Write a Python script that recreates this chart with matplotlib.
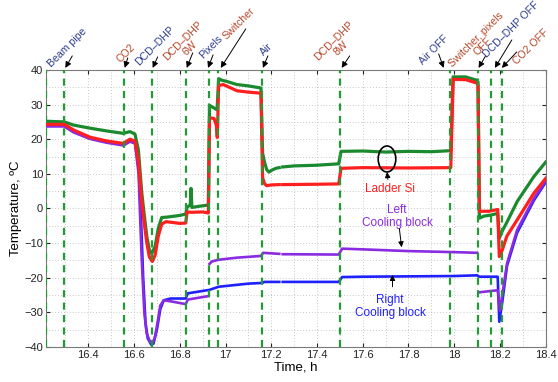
"""Temperaturas del ladder y bloques de refrigeracion durante la prueba termica."""

import matplotlib

matplotlib.use("Agg")
import matplotlib.pyplot as plt
import numpy as np
from matplotlib.patches import Ellipse
from matplotlib.ticker import FuncFormatter, MultipleLocator

plt.rcParams["font.family"] = ["Liberation Sans", "DejaVu Sans"]

nan = np.nan

# --- datos ---------------------------------------------------------------
green_t = [16.215, 16.295, 16.335, 16.407, 16.48, 16.553, 16.582, 16.604,
           16.619, 16.626, 16.634, 16.644, 16.656, 16.667, 16.677, 16.692,
           16.706, 16.721, 16.743, 16.8, 16.826, 16.832, 16.846, 16.849,
           16.853, 16.88, 16.925, 16.93, 16.95, 16.963, 16.97, 16.985, 17.0,
           17.05, 17.1, 17.155, 17.162, 17.17, 17.18, 17.19, 17.2, 17.22,
           17.235, 17.24, 17.25, 17.3, 17.4, 17.495, 17.505, 17.6, 17.7,
           17.8, 17.9, 17.985, 17.995, 18.05, 18.1, 18.104, 18.11, 18.13,
           18.16, 18.19, 18.197, 18.21, 18.23, 18.275, 18.348, 18.4]
green_v = [25.2, 25.0, 24.1, 23.2, 22.4, 21.7, 22.2, 21.5,
           16.9, 11.1, 4.4, -1.4, -8.1, -12.0, -13.0, -11.0,
           -5.7, -2.6, -2.5, -2.0, -1.6, 0.4, 1.0, 5.8,
           0.3, 0.6, 1.0, 29.8, 29.0, 28.5, 37.5, 37.0, 36.8,
           35.8, 35.4, 34.8, 16.0, 13.5, 11.2, 10.5, 11.0, 11.6,
           11.8, nan, 12.0, 12.3, 12.5, 12.9, 16.5, 16.6, 16.3,
           16.5, 16.4, 16.7, 38.0, 38.0, 37.0, 36.5, -2.8, -2.2,
           -1.9, -1.4, -8.6, -6.5, -4.0, 2.0, 9.2, 13.4]

red_t = [16.215, 16.295, 16.335, 16.407, 16.48, 16.553, 16.582, 16.604,
         16.619, 16.634, 16.644, 16.656, 16.667, 16.68, 16.692, 16.706,
         16.721, 16.74, 16.8, 16.826, 16.832, 16.85, 16.9, 16.925, 16.93,
         16.95, 16.96, 16.964, 16.97, 16.99, 17.05, 17.1, 17.155, 17.162,
         17.17, 17.18, 17.2, 17.235, 17.24, 17.25, 17.4, 17.495, 17.505,
         17.6, 17.8, 17.985, 17.995, 18.05, 18.1, 18.104, 18.11, 18.15,
         18.19, 18.197, 18.21, 18.23, 18.275, 18.348, 18.4]
red_v = [24.3, 24.3, 22.7, 20.6, 19.5, 18.8, 20.0, 19.5,
         14.0, 2.0, -4.0, -10.0, -14.0, -15.3, -13.5, -8.0,
         -4.5, -3.8, -4.3, -4.2, -1.0, -1.1, -1.0, -1.3, 26.2,
         26.0, 24.0, 20.5, 35.5, 35.8, 34.0, 33.6, 33.3, 9.0,
         7.2, 6.6, 6.8, 6.9, nan, 6.9, 7.0, 7.1, 11.6,
         11.8, 11.7, 11.8, 37.3, 37.2, 36.2, 35.5, -0.8, -0.8,
         -0.3, -13.9, -12.0, -8.0, -3.3, 4.4, 8.7]

left_t = [16.215, 16.295, 16.335, 16.407, 16.48, 16.553, 16.582, 16.604,
          16.62, 16.628, 16.632, 16.636, 16.645, 16.655, 16.67, 16.68,
          16.69, 16.7, 16.715, 16.73, 16.76, 16.8, 16.826, 16.835, 16.925,
          16.927, 16.93, 16.94, 16.97, 17.05, 17.155, 17.165, 17.235, 17.24,
          17.25, 17.495, 17.51, 17.6, 17.8, 18.0, 18.1, 18.105, 18.11,
          18.19, 18.2, 18.21, 18.231, 18.275, 18.348, 18.4]
left_v = [23.7, 23.7, 22.0, 20.1, 19.0, 18.2, 19.3, 18.8,
          10.0, -5.0, -12.0, -18.0, -30.0, -36.0, -38.5, -38.8,
          -37.5, -34.0, -28.0, -26.5, -26.8, -27.3, -27.6, -26.3, -25.3,
          nan, -16.0, -15.3, -14.8, -14.2, -13.7, -12.8, -13.1, nan,
          -13.2, -13.3, -11.6, -11.8, -12.3, -12.6, -12.8, nan, -24.2,
          -23.6, -29.5, -25.0, -15.8, -6.2, 2.9, 8.0]

right_t = [16.215, 16.295, 16.335, 16.407, 16.48, 16.553, 16.582, 16.604,
           16.62, 16.63, 16.64, 16.65, 16.66, 16.675, 16.685, 16.7, 16.715,
           16.73, 16.76, 16.826, 16.835, 16.93, 16.97, 17.1, 17.16, 17.17,
           17.235, 17.24, 17.25, 17.495, 17.51, 17.6, 17.8, 18.0, 18.1,
           18.11, 18.19, 18.197, 18.21, 18.231, 18.275, 18.348, 18.4]
right_v = [24.0, 24.0, 22.3, 20.3, 19.2, 18.4, 19.5, 19.0,
           12.0, -2.0, -20.0, -33.0, -37.5, -39.3, -39.0, -35.0, -29.0,
           -26.5, -26.0, -26.0, -24.5, -23.5, -22.6, -21.7, -21.5, -21.2,
           -21.2, nan, -21.2, -21.2, -19.8, -19.7, -19.6, -19.5, -19.3,
           -19.7, -19.7, -32.7, -27.0, -16.5, -7.0, 2.3, 7.6]

# eventos (h) y sus etiquetas
event_t = [16.215, 16.295, 16.555, 16.677, 16.826, 16.928, 16.966, 17.159,
           17.499, 17.98, 18.102, 18.16, 18.208]
BLUE_TXT = "#2e3c8e"
RED_TXT = "#b5472b"
# (texto, color, evento, dx cabeza px, cola (dx, dy) px, centro texto (dx, dy) px)
event_labels = [
    ("Beam pipe", BLUE_TXT, 1, 1, (7, 12), (2, 20)),
    ("CO2", RED_TXT, 2, 1, (3, 10), (1, 15)),
    ("DCD\u2013DHP", BLUE_TXT, 3, 1, (5, 11), (2, 22)),
    ("DCD\u2013DHP\n6W", RED_TXT, 4, 1, (6, 15), (0, 23)),
    ("Pixels", BLUE_TXT, 5, -1, (5, 13), (3, 21)),
    ("Switcher", RED_TXT, 6, 3, (25, 39), (18, 44)),
    ("Air", BLUE_TXT, 7, 1, (5, 12), (4, 19)),
    ("DCD\u2013DHP\n8W", RED_TXT, 8, 2, (8, 12), (-4, 23)),
    ("Air OFF", BLUE_TXT, 9, -6, (-5, 14), (-10, 18)),
    ("Switcher, pixels\nOFF", RED_TXT, 10, 1, (7, 12), (1, 25)),
    ("DCD\u2013DHP OFF", BLUE_TXT, 11, 4, (17, 28), (16, 38)),
    ("CO2 OFF", RED_TXT, 12, 0, (15, 16), (29, 21)),
]

GREEN = "#1b8a2e"
RED = "#ff1f1f"
BLUE = "#1f1fff"
PURPLE = "#8a2be2"
EV_GREEN = "#229a35"

fig = plt.figure(figsize=(5.58, 3.82), dpi=100)
ax = fig.add_axes([0.0824, 0.0916, 0.8956, 0.7252])

ax.plot(right_t, right_v, color=BLUE, lw=1.9, zorder=3)
ax.plot(left_t, left_v, color=PURPLE, lw=1.9, zorder=3)
ax.plot(green_t, green_v, color=GREEN, lw=2.3, zorder=3)
ax.plot(red_t, red_v, color=RED, lw=2.3, zorder=4)

for t in event_t:
    ax.axvline(t, color=EV_GREEN, lw=1.6, ls=(0, (3.2, 2.4)), zorder=5)

ax.set_xlim(16.215, 18.4)
ax.set_ylim(-40, 40)
ax.xaxis.set_major_locator(MultipleLocator(0.2))
ax.xaxis.set_minor_locator(MultipleLocator(0.1))
ax.yaxis.set_major_locator(MultipleLocator(10))
ax.yaxis.set_minor_locator(MultipleLocator(5))
ax.xaxis.set_major_formatter(FuncFormatter(lambda v, _: f"{v:g}"))
ax.grid(which="both", color="#b8b8b8", ls=(0, (1, 2.5)), lw=0.6, zorder=0)
ax.tick_params(which="major", direction="in", length=3, top=True, right=True,
               labelsize=8, colors="#222222", pad=2)
ax.tick_params(which="minor", length=0)
for sp in ax.spines.values():
    sp.set_color("#7a7a7a")
    sp.set_linewidth(0.8)
ax.set_xlabel("Time, h", fontsize=9.5, labelpad=1)
ax.set_ylabel("Temperature, \u00baC", fontsize=9.5, labelpad=2)

# anotaciones de eventos arriba del eje
px_per_h = 228.5
for text, color, idx, hdx, tail, ctr in event_labels:
    head = (event_t[idx] + hdx / px_per_h, 40.6)
    ax.annotate("", xy=head, xytext=tail, textcoords="offset pixels",
                annotation_clip=False,
                arrowprops=dict(arrowstyle="-|>", color="black", lw=0.7,
                                mutation_scale=9, shrinkA=0, shrinkB=0))
    ax.annotate(text, xy=head, xytext=ctr, textcoords="offset pixels",
                annotation_clip=False, rotation=45, rotation_mode="anchor",
                ha="center", va="center", ma="center", fontsize=7.6,
                color=color, linespacing=1.0)

# etiquetas de las series
ax.add_patch(Ellipse((17.706, 14.3), 0.077, 7.5, fill=False, color="black",
                     lw=1.2, zorder=6))
ax.annotate("", xy=(17.706, 10.5), xytext=(17.71, 8.4),
            arrowprops=dict(arrowstyle="-|>", color="black", lw=0.7,
                            mutation_scale=8, shrinkA=0, shrinkB=0), zorder=6)
ax.text(17.72, 5.6, "Ladder Si", color=RED, fontsize=8.5, ha="center",
        va="center", zorder=6)
ax.text(17.75, -2.3, "Left\nCooling block", color=PURPLE, fontsize=8.5,
        ha="center", va="center", linespacing=1.15, zorder=6)
ax.annotate("", xy=(17.77, -11.2), xytext=(17.76, -5.8),
            arrowprops=dict(arrowstyle="-|>", color="black", lw=0.7,
                            mutation_scale=8, shrinkA=0, shrinkB=0), zorder=6)
ax.text(17.72, -28.3, "Right\nCooling block", color=BLUE, fontsize=8.5,
        ha="center", va="center", linespacing=1.15, zorder=6)
ax.annotate("", xy=(17.73, -19.2), xytext=(17.73, -22.6),
            arrowprops=dict(arrowstyle="-|>", color="black", lw=0.7,
                            mutation_scale=8, shrinkA=0, shrinkB=0), zorder=6)

fig.savefig("out.png", dpi=100)
